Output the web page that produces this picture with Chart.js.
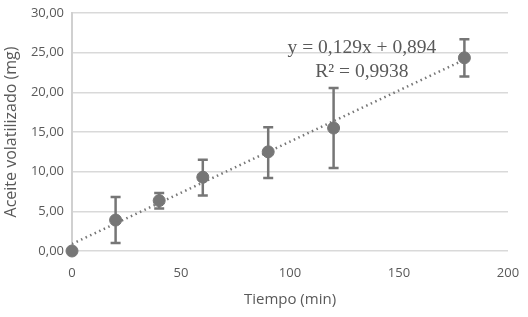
<!DOCTYPE html>
<html>
<head>
<meta charset="utf-8">
<script src="https://cdn.jsdelivr.net/npm/chart.js@4"></script>
<style>
  html, body { margin: 0; padding: 0; background: #fff; }
  #wrap { width: 528px; height: 317px; }
</style>
</head>
<body>
<div id="wrap"><canvas id="chart" width="528" height="317"></canvas></div>
<script>
// Data
const tiempo = [0, 20, 40, 60, 90, 120, 180];
const aceite = [0, 3.9, 6.35, 9.3, 12.5, 15.5, 24.35];
const errHigh = [0, 6.8, 7.3, 11.5, 15.6, 20.55, 26.7];
const errLow = [0, 1.0, 5.35, 7.0, 9.2, 10.45, 22.0];
const trendX = [0, 180];
const trendY = [0.894, 24.11];
const eqLines = ["y = 0,129x + 0,894", "R² = 0,9938"];

const grey = "#767676";
const textGrey = "#595959";

// Draw error bars using the chart scales
const errorBars = {
    id: "errorBars",
    beforeDatasetsDraw(chart) {
        const ctx = chart.ctx;
        const xs = chart.scales.x;
        const ys = chart.scales.y;
        ctx.save();
        ctx.strokeStyle = grey;
        ctx.lineWidth = 2.5;
        tiempo.forEach((t, i) => {
            if (errHigh[i] === errLow[i]) return;
            const px = xs.getPixelForValue(t);
            const top = ys.getPixelForValue(errHigh[i]);
            const bot = ys.getPixelForValue(errLow[i]);
            ctx.beginPath();
            ctx.moveTo(px, top);
            ctx.lineTo(px, bot);
            ctx.moveTo(px - 5, top);
            ctx.lineTo(px + 5, top);
            ctx.moveTo(px - 5, bot);
            ctx.lineTo(px + 5, bot);
            ctx.stroke();
        });
        ctx.restore();
    }
};

// Trendline equation label
const eqLabel = {
    id: "eqLabel",
    afterDatasetsDraw(chart) {
        const ctx = chart.ctx;
        const xs = chart.scales.x;
        const ys = chart.scales.y;
        ctx.save();
        ctx.fillStyle = textGrey;
        ctx.font = "19.5px 'Liberation Serif'";
        ctx.textAlign = "center";
        ctx.textBaseline = "middle";
        const cx = xs.getPixelForValue(133);
        ctx.fillText(eqLines[0], cx, ys.getPixelForValue(25.6));
        ctx.fillText(eqLines[1], cx, ys.getPixelForValue(22.6));
        ctx.restore();
    }
};

const fmt = v => v.toFixed(2).replace(".", ",");

new Chart(document.getElementById("chart"), {
    type: "scatter",
    data: {
        datasets: [{
            type: "line",
            data: trendX.map((x, i) => ({ x: x, y: trendY[i] })),
            borderColor: grey,
            borderWidth: 2.5,
            borderDash: [1.5, 3.5],
            pointRadius: 0,
            fill: false
        }, {
            data: tiempo.map((x, i) => ({ x: x, y: aceite[i] })),
            backgroundColor: grey,
            borderColor: grey,
            pointRadius: 6,
            pointHoverRadius: 6,
            clip: false
        }]
    },
    options: {
        responsive: false,
        animation: false,
        layout: { padding: { top: 13, right: 20, left: 0, bottom: 0 } },
        plugins: {
            legend: { display: false },
            tooltip: { enabled: false }
        },
        scales: {
            x: {
                type: "linear",
                min: 0,
                max: 200,
                ticks: {
                    stepSize: 50,
                    color: textGrey,
                    font: { family: "Open Sans", size: 13 },
                    padding: 14
                },
                grid: { display: false, drawTicks: false },
                border: { display: false },
                title: {
                    display: true,
                    text: "Tiempo (min)",
                    color: textGrey,
                    font: { family: "Open Sans", size: 15 },
                    padding: { top: 4, bottom: 8 }
                },
                afterFit: scale => {
                    scale.height = 66;
                    scale.paddingLeft = 0;
                    scale.paddingRight = 0;
                }
            },
            y: {
                min: 0,
                max: 30,
                ticks: {
                    stepSize: 5,
                    color: textGrey,
                    font: { family: "Open Sans", size: 13 },
                    padding: 8,
                    callback: v => fmt(v)
                },
                grid: { color: "#d9d9d9", lineWidth: 1.5, drawTicks: false },
                border: { color: "#d0d0d0", width: 2 },
                title: {
                    display: true,
                    text: "Aceite volatilizado (mg)",
                    color: textGrey,
                    font: { family: "Open Sans", size: 16 },
                    padding: { top: 2, bottom: 4 }
                },
                afterFit: scale => {
                    scale.width = 72;
                    scale.paddingTop = 0;
                    scale.paddingBottom = 0;
                }
            }
        }
    },
    plugins: [errorBars, eqLabel]
});
</script>
</body>
</html>
